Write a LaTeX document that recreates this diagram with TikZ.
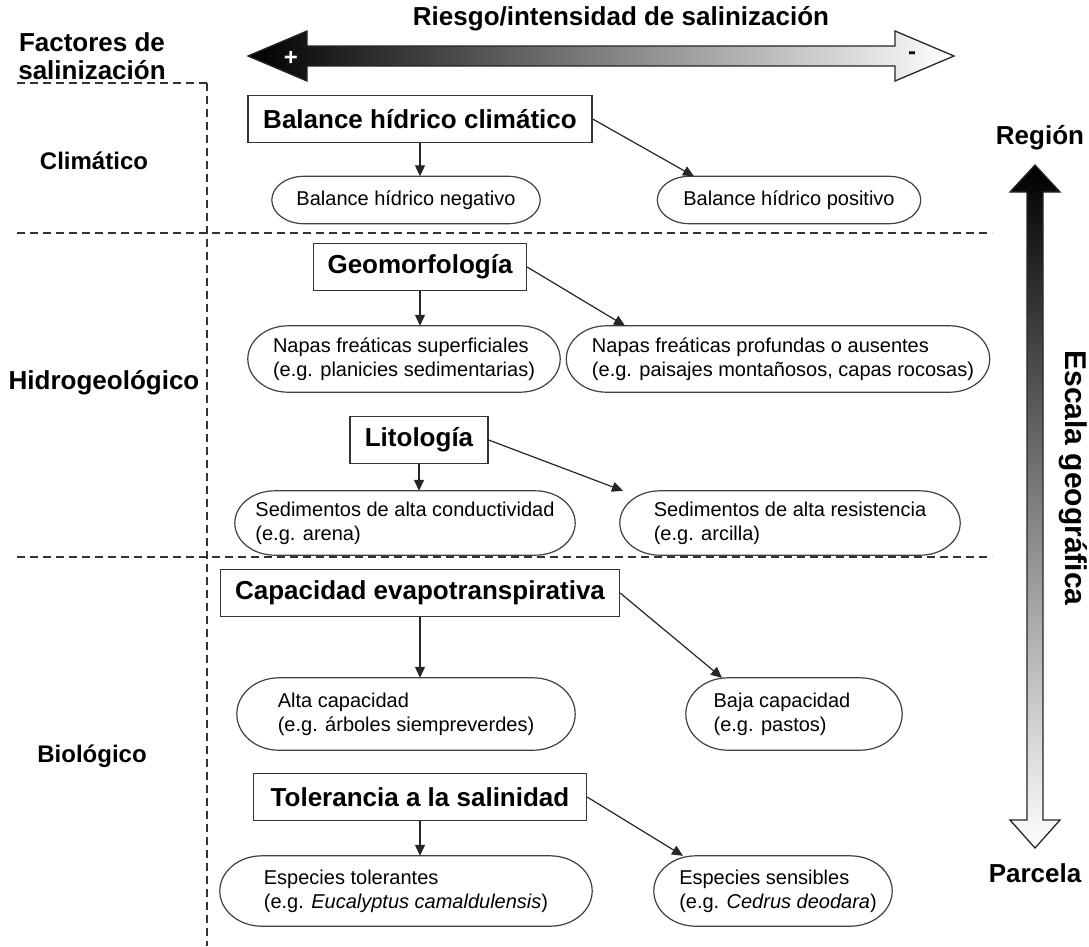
\documentclass[tikz,border=0pt]{standalone}
\usepackage{fontspec}
\setmainfont{Liberation Sans}
\usetikzlibrary{arrows.meta,calc}
\newcommand{\drawpill}[2]{%
  \draw[pillline] let \p1=(#1.north west), \p2=(#1.south east), \n1={(\y1-\y2)/2} in
    ({\x1+#2pt},\y1) -- ({\x2-#2pt},\y1)
    arc[start angle=90, end angle=-90, x radius=#2pt, y radius=\n1]
    -- ({\x1+#2pt},\y2)
    arc[start angle=270, end angle=90, x radius=#2pt, y radius=\n1] -- cycle;}
\begin{document}
\begin{tikzpicture}[x=1pt,y=-1pt,
  hdr/.style={font=\fontsize{26}{30}\selectfont\bfseries, align=center, inner sep=0pt},
  lbl/.style={font=\fontsize{24}{28}\selectfont\bfseries, inner sep=0pt},
  tbox/.style={draw=black!80, line width=1.3pt, fill=white, font=\fontsize{26}{30}\selectfont\bfseries, minimum height=47pt, inner sep=0pt},
  obox/.style={font=\fontsize{20}{24}\selectfont, align=left, inner sep=0pt, minimum height=47pt},
  pillline/.style={draw=black!75, line width=1.2pt},
  conn/.style={line width=1.2pt, draw=black!85, -{Triangle[length=11pt,width=10pt]}},
  sepline/.style={line width=1.5pt, draw=black!80, dash pattern=on 8pt off 5pt},
  bigarrow/.style={draw=black!85, line width=1.3pt, line join=miter}
]
\useasboundingbox[fill=white] (0,0) rectangle (1089,946);

% separators
\draw[sepline] (17,83) -- (207,83);
\draw[sepline] (207,83) -- (207,946);
\draw[sepline] (17,233) -- (992,233);
\draw[sepline] (17,557) -- (992,557);

% top double arrow
\shade[left color=black, right color=white]
  (248,56) -- (307,31) -- (307,46) -- (895,46) -- (895,31) -- (954,56)
  -- (895,81) -- (895,66) -- (307,66) -- (307,81) -- cycle;
\draw[bigarrow]
  (248,56) -- (307,31) -- (307,46) -- (895,46) -- (895,31) -- (954,56)
  -- (895,81) -- (895,66) -- (307,66) -- (307,81) -- cycle;
\node[font=\fontsize{24}{26}\selectfont\bfseries, text=white] (plus) at (291,58) {+};
\node[font=\fontsize{24}{26}\selectfont\bfseries] (minus) at (912,56) {-};

% right vertical arrow
\shade[top color=black, bottom color=white]
  (1035,165) -- (1060,192) -- (1043,192) -- (1043,820) -- (1060,820) -- (1035,848)
  -- (1010,820) -- (1027,820) -- (1027,192) -- (1010,192) -- cycle;
\draw[bigarrow]
  (1035,165) -- (1060,192) -- (1043,192) -- (1043,820) -- (1060,820) -- (1035,848)
  -- (1010,820) -- (1027,820) -- (1027,192) -- (1010,192) -- cycle;

% headers
\node[hdr] (tit) at (621,19) {Riesgo/intensidad de salinización};
\node[hdr] (fac) at (92,56) {Factores de\\[-2pt]salinización};
\node[lbl] (cli) at (94,161) {Climático};
\node[hdr] (hid) at (104,383) {Hidrogeológico};
\node[lbl] (bio) at (92,756) {Biológico};
\node[hdr] (reg) at (1040,138) {Región};
\node[hdr] (par) at (1035,873) {Parcela};
\node[hdr, font=\fontsize{30}{32}\selectfont\bfseries, rotate=-90] (esc) at (1073,478) {Escala geográfica};

% Climatic
\node[tbox, minimum width=344pt] (b1) at (420,119) {Balance hídrico climático};
\node[obox, minimum width=268pt] (e1) at (406,200) {Balance hídrico negativo};
\node[obox, minimum width=263pt] (e2) at (789,200) {Balance hídrico positivo};

% Hydrogeological
\node[tbox, minimum width=213pt] (b2) at (420,267) {Geomorfología};
\node[obox, minimum width=312pt, minimum height=66pt] (e3) at (404,359) {Napas freáticas superficiales\\(e.g. planicies sedimentarias)};
\node[obox, minimum width=423pt, minimum height=66pt] (e4) at (778,359) {\hspace*{10pt}Napas freáticas profundas o ausentes\\\hspace*{10pt}(e.g. paisajes montañosos, capas rocosas)};
\node[tbox, minimum width=138pt] (b3) at (419,440) {Litología};
\node[obox, minimum width=340pt, minimum height=64pt] (e5) at (405,523) {Sedimentos de alta conductividad\\(e.g. arena)};
\node[obox, minimum width=340pt, minimum height=64pt] (e6) at (790,523) {Sedimentos de alta resistencia\\(e.g. arcilla)};

% Biological
\node[tbox, minimum width=399pt] (b4) at (420,593) {Capacidad evapotranspirativa};
\node[obox, minimum width=338pt, minimum height=72pt] (e7) at (406,714) {Alta capacidad\\(e.g. árboles siempreverdes)};
\node[obox, minimum width=216pt, minimum height=72pt] (e8) at (794,714) {Baja capacidad\hspace*{24pt}\\(e.g. pastos)};
\node[tbox, minimum width=333pt] (b5) at (420,797) {Tolerancia a la salinidad};
\node[obox, minimum width=372pt, minimum height=70pt] (e9) at (406,891) {Especies tolerantes\\(e.g. \textit{Eucalyptus camaldulensis})};
\node[obox, minimum width=238pt, minimum height=70pt] (e10) at (773,891) {\hspace*{10pt}Especies sensibles\\\hspace*{10pt}(e.g. \textit{Cedrus deodara})};

% oval outlines
\drawpill{e1}{32}
\drawpill{e2}{32}
\drawpill{e3}{40}
\drawpill{e4}{40}
\drawpill{e5}{40}
\drawpill{e6}{40}
\drawpill{e7}{42}
\drawpill{e8}{42}
\drawpill{e9}{42}
\drawpill{e10}{42}

% connectors
\draw[conn] (b1.south) -- (b1.south |- e1.north);
\draw[conn] (b1.east) -- ([xshift=-95pt]e2.north);
\draw[conn] (b2.south) -- (b2.south |- e3.north);
\draw[conn] (b2.east) -- ([xshift=-153pt]e4.north);
\draw[conn] (b3.south) -- (b3.south |- e5.north);
\draw[conn] (b3.east) -- ([xshift=-167pt]e6.north);
\draw[conn] (b4.south) -- (b4.south |- e7.north);
\draw[conn] (b4.east) -- ([xshift=-72pt]e8.north);
\draw[conn] (b5.south) -- (b5.south |- e9.north);
\draw[conn] (b5.east) -- ([xshift=-90pt]e10.north);
\end{tikzpicture}
\end{document}
